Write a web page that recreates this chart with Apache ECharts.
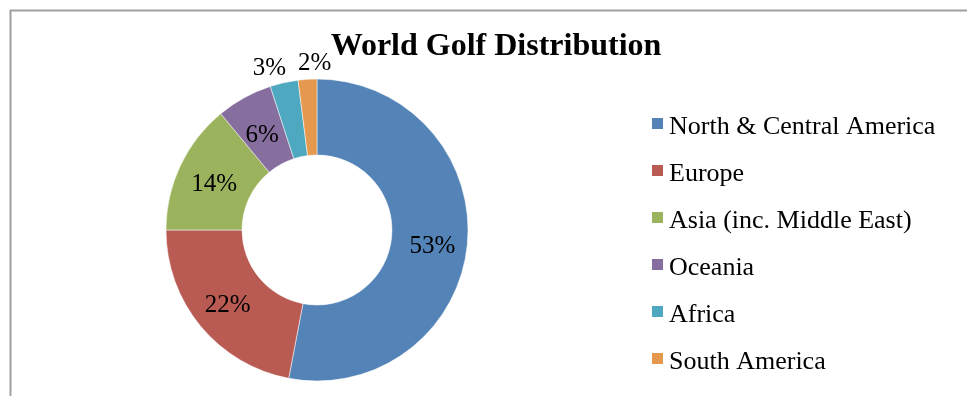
<!DOCTYPE html>
<html>
<head>
<meta charset="utf-8">
<script src="https://cdn.jsdelivr.net/npm/echarts@6/dist/echarts.min.js"></script>
<style>
  html, body { margin: 0; padding: 0; background: #fff; }
  #chart { width: 967px; height: 396px; }
</style>
</head>
<body>
<div id="chart"></div>
<script>
const regions = ['North & Central America', 'Europe', 'Asia (inc. Middle East)', 'Oceania', 'Africa', 'South America'];
const shares = [53, 22, 14, 6, 3, 2];
const colors = ['#5383B7', '#B95B53', '#9CB35E', '#866E9F', '#4EA8BF', '#E4994F'];

const serif = '"Liberation Serif", "Times New Roman", serif';

// small nudges so the labels sit where Excel put them
const labelOffsets = [[0, 6], [0, 1], [2, 4], [1, 7], [8, -10], [29, -12]];

const myChart = echarts.init(document.querySelector('#chart'));

const data = regions.map((name, i) => {
  const item = {
    name,
    value: shares[i],
    itemStyle: { color: colors[i] },
    label: { offset: labelOffsets[i] },
  };
  // the two thin slices get their labels outside, above the ring
  if (shares[i] < 5) {
    item.label.position = 'outside';
    item.labelLine = { show: false };
  }
  return item;
});

const option = {
  animation: false,
  title: {
    text: 'World Golf Distribution',
    left: 491,
    top: 26,
    textAlign: 'center',
    textStyle: {
      fontFamily: serif,
      fontSize: 32,
      fontWeight: 'bold',
      color: '#000',
    },
  },
  legend: {
    orient: 'vertical',
    left: 645,
    top: 109,
    itemWidth: 13,
    itemHeight: 20,
    itemGap: 21,
    // square sits in the top part of the box, like Excel's legend keys
    icon: 'path://M0,0h13v13h-13z M0,20h0.01v0.01h-0.01z',
    data: regions,
    textStyle: {
      fontFamily: serif,
      fontSize: 26,
      color: '#000',
    },
  },
  graphic: [
    {
      type: 'polyline',
      shape: { points: [[10.5, 396], [10.5, 10.5], [967, 10.5]] },
      style: { stroke: '#a0a0a0', lineWidth: 2, fill: null },
    },
  ],
  series: [
    {
      name: 'World Golf Distribution',
      type: 'pie',
      center: [317, 230],
      radius: [75, 151],
      startAngle: 90,
      clockwise: true,
      avoidLabelOverlap: false,
      itemStyle: { borderColor: '#fff', borderWidth: 0.5 },
      label: {
        show: true,
        position: 'inside',
        formatter: '{c}%',
        fontFamily: serif,
        fontSize: 25,
        color: '#000',
      },
      labelLine: { show: false, length: 4, length2: 0 },
      data,
    },
  ],
};

option && myChart.setOption(option);
</script>
</body>
</html>
